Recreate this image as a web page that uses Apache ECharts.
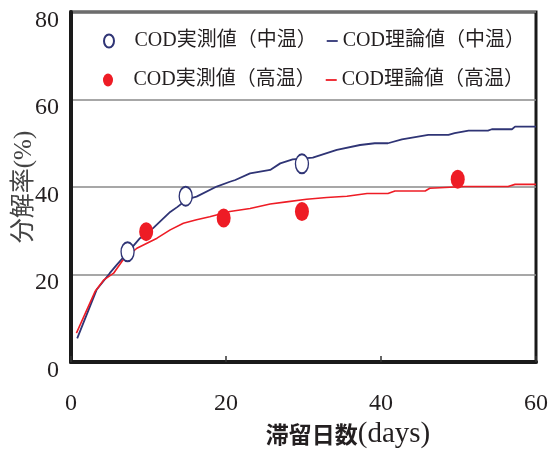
<!DOCTYPE html>
<html>
<head>
<meta charset="utf-8">
<script src="https://cdn.jsdelivr.net/npm/echarts@6/dist/echarts.min.js"></script>
<style>html,body{margin:0;padding:0;background:#fff}#c{width:560px;height:450px}</style>
</head>
<body>
<div id="c"></div>
<script>
// ---- data ----
const seriesNames = ['COD実測値（中温）', 'COD理論値（中温）', 'COD実測値（高温）', 'COD理論値（高温）'];
const measMidDays = [7.3, 14.8, 29.8];
const measMidVals = [25.2, 37.9, 45.3];
const measHighDays = [9.7, 19.7, 29.8, 49.9];
const measHighVals = [29.8, 32.9, 34.4, 41.8];
const theoMidDays = [0.8, 3.3, 5.0, 5.9, 7.3, 8.9, 10.6, 12.8, 13.7, 15.0, 16.2, 18.8, 20.5, 21.2, 23.1, 25.7, 27.0, 28.6, 31.2, 34.3, 37.3, 39.2, 40.9, 42.7, 46.1, 48.7, 49.5, 51.3, 53.8, 54.3, 56.9, 57.3, 60];
const theoMidVals = [5.4, 16.5, 20.3, 22.2, 25.0, 28.3, 30.6, 34.3, 35.4, 37.2, 37.8, 40.1, 41.2, 41.6, 43.1, 43.9, 45.4, 46.3, 46.7, 48.5, 49.6, 50.0, 50.0, 50.9, 51.9, 51.9, 52.3, 52.9, 52.9, 53.2, 53.2, 53.8, 53.8];
const theoHighDays = [0.7, 3.1, 4.2, 5.5, 6.7, 8.5, 11.1, 12.8, 14.5, 16.2, 17.9, 20.5, 23.1, 25.7, 27.8, 30.4, 33.0, 35.6, 38.2, 40.9, 41.8, 45.7, 46.3, 50.8, 56.4, 57.3, 60];
const theoHighVals = [6.6, 16.1, 18.7, 20.3, 23.3, 26.0, 28.3, 30.2, 31.7, 32.5, 33.2, 34.4, 35.1, 36.1, 36.6, 37.2, 37.6, 37.9, 38.5, 38.5, 39.1, 39.1, 39.7, 40.1, 40.1, 40.6, 40.6];
const xTicks = [0, 20, 40, 60];
const yTicks = [0, 20, 40, 60, 80];

const zip = (a, b) => a.map((v, i) => [v, b[i]]);
const NAVY = '#2f3475';
const RED = '#ee1c25';
const TXT = '#231f20';
const legendFont = {fontSize: 20, color: TXT, fontFamily: '"Liberation Serif","Noto Sans CJK JP",serif'};
const ELLIPSE = 'path://M5,0 A5,6.5 0 1,1 5,13 A5,6.5 0 1,1 5,0 Z';
const DASH = 'path://M0,0 L11,0 L11,1.8 L0,1.8 Z';

const chart = echarts.init(document.getElementById('c'), null, {renderer: 'canvas'});
function legendCfg(names, top) {
  return {
    left: 103, top: top, padding: 0, orient: 'horizontal', selectedMode: false,
    itemWidth: 11, itemHeight: 13, itemGap: 10, symbolKeepAspect: true,
    textStyle: legendFont,
    data: [
      {name: names[0], icon: ELLIPSE, textStyle: Object.assign({}, legendFont, {padding: [0, 0, 0, 15]})},
      {name: names[1], icon: DASH}
    ]
  };
}
chart.setOption({
  animation: false,
  backgroundColor: '#fff',
  grid: {left: 71, right: 24, top: 12, bottom: 88, show: true, borderColor: '#1a1a1a', borderWidth: 3,
         containLabel: false, outerBoundsMode: 'none'},
  legend: [legendCfg([seriesNames[0], seriesNames[1]], 31), legendCfg([seriesNames[2], seriesNames[3]], 70)],
  xAxis: {
    type: 'value', min: xTicks[0], max: xTicks[xTicks.length - 1], interval: 20,
    axisLine: {show: true, lineStyle: {color: '#1a1a1a', width: 4}},
    axisTick: {show: true, inside: true, length: 6, lineStyle: {color: '#333', width: 1.5}},
    splitLine: {show: false},
    axisLabel: {fontSize: 24, color: TXT, fontFamily: '"Liberation Serif",serif', margin: 30},
    name: '{a|滞留日数}{b|(days)}',
    nameLocation: 'middle', nameGap: 58, nameMoveOverlap: false,
    nameTextStyle: {
      padding: [0, 0, 0, 89],
      rich: {
        a: {fontSize: 23, fontWeight: 'bold', color: TXT, fontFamily: '"Noto Sans CJK JP",sans-serif'},
        b: {fontSize: 29, color: TXT, fontFamily: '"Liberation Serif",serif'}
      }
    }
  },
  yAxis: {
    type: 'value', min: yTicks[0], max: yTicks[yTicks.length - 1], interval: 20,
    axisLine: {show: true, lineStyle: {color: '#1a1a1a', width: 4}},
    axisTick: {show: false},
    splitLine: {show: true, lineStyle: {color: '#8a8a8a', width: 1.5}},
    axisLabel: {fontSize: 24, color: TXT, fontFamily: '"Liberation Serif",serif', margin: 12, verticalAlign: 'top', lineHeight: 17},
    name: '分解率(%)', nameLocation: 'middle', nameGap: 34, nameMoveOverlap: false,
    nameTextStyle: {fontSize: 25, color: '#444', fontFamily: '"Liberation Serif","Noto Sans CJK JP",serif'}
  },
  series: [
    {name: seriesNames[0], type: 'scatter', z: 5, data: zip(measMidDays, measMidVals), symbol: 'circle', symbolSize: [13, 19],
     itemStyle: {color: '#fff', borderColor: NAVY, borderWidth: 1.6, opacity: 1}},
    {name: seriesNames[1], type: 'line', z: 3, data: zip(theoMidDays, theoMidVals), symbol: 'none', showSymbol: false,
     lineStyle: {color: NAVY, width: 1.8}, itemStyle: {color: NAVY}},
    {name: seriesNames[2], type: 'scatter', z: 5, data: zip(measHighDays, measHighVals), symbol: 'circle', symbolSize: [14, 19],
     itemStyle: {color: RED, opacity: 1}},
    {name: seriesNames[3], type: 'line', z: 3, data: zip(theoHighDays, theoHighVals), symbol: 'none', showSymbol: false,
     lineStyle: {color: RED, width: 1.6}, itemStyle: {color: RED}}
  ]
});
</script>
</body>
</html>
